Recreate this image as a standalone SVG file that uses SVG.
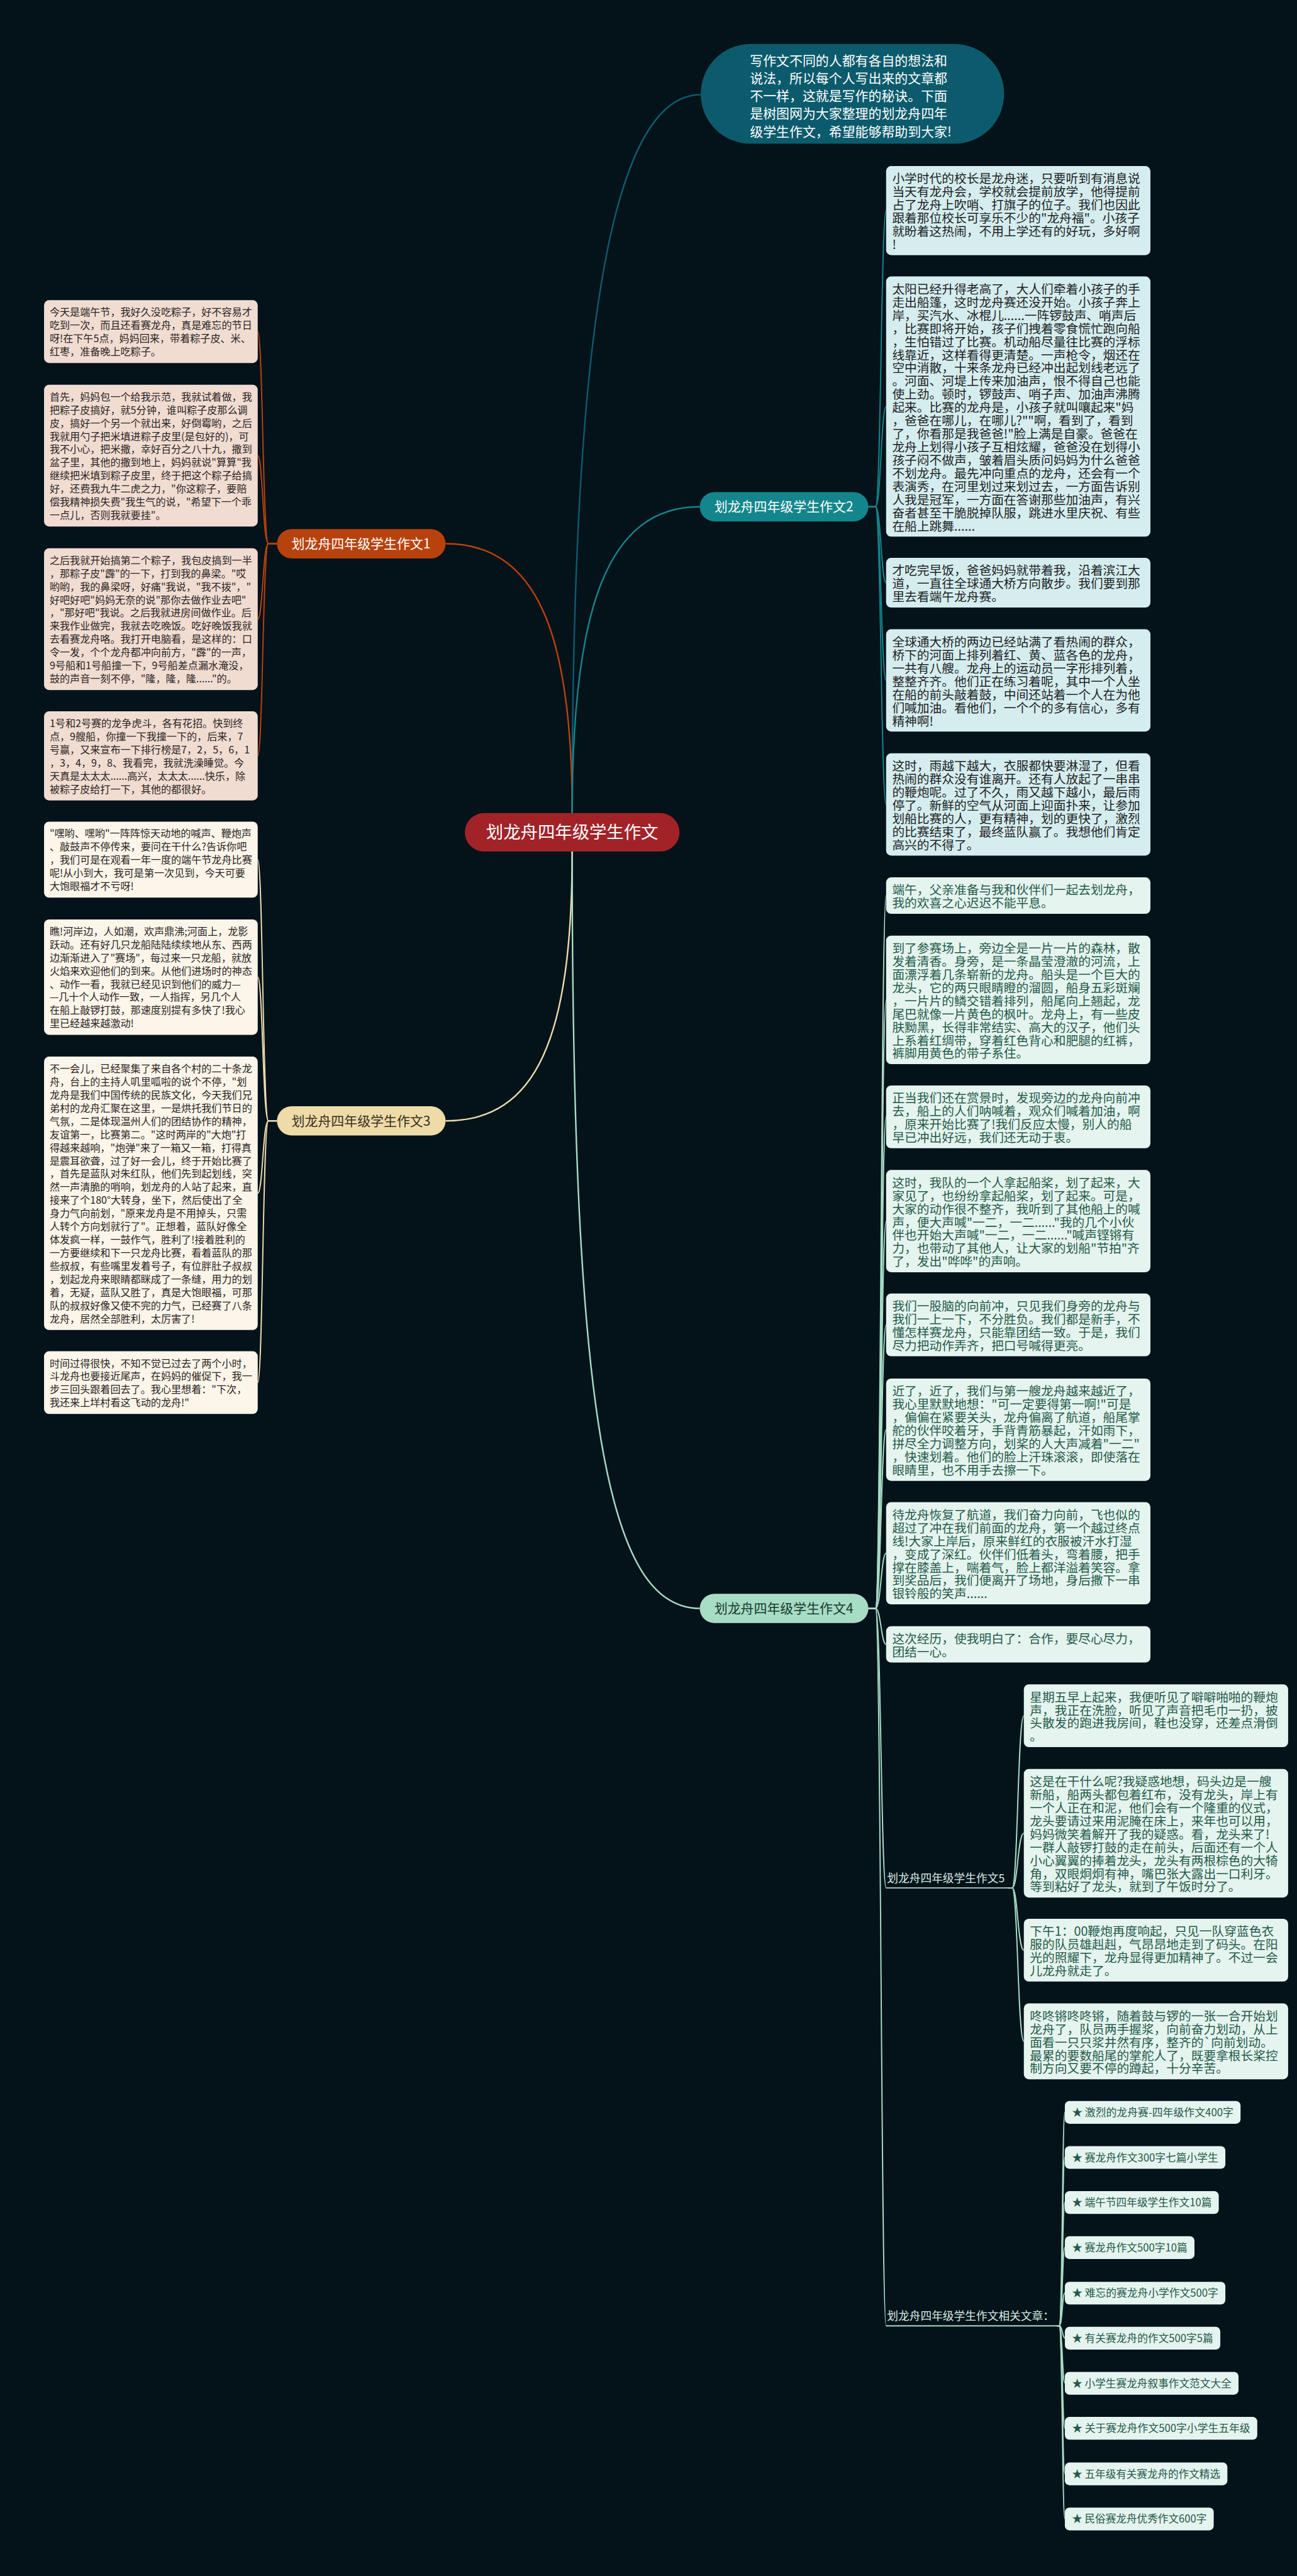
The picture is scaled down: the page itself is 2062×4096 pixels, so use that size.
<svg xmlns="http://www.w3.org/2000/svg" width="2062" height="4096" viewBox="0 0 2062 4096">
<style>
.f{font-family:'Noto Sans CJK SC','Noto Sans',sans-serif}
.t20{font-size:20px}
.t25{font-size:24.5px}
.tl{fill:#2a2422}
.tr{fill:#1d2224}
.tg{fill:#245a49}
.c1{stroke:#b8420d}
.c2{stroke:#13868c}
.c3{stroke:#ecdcac}
.c4{stroke:#a6dcc4}
.ci{stroke:#0b5b6d}
.con path{fill:none}
.main{stroke-width:3}
.sub{stroke-width:2.4}
.n1{fill:#f1dcd2}
.n3{fill:#fbf5ea}
.n2{fill:#d5edef}
.n4{fill:#e5f4ef}
</style>
<rect x="0" y="0" width="2062" height="4096" fill="#04121a"/>
<g transform="scale(0.805)">
<g id="connectors" class="con">
<path class="ci main" d="M1130,1606 C1130,700 1200,187 1384,187"/>
<path class="c1 main" d="M1130,1606 C1130,1250 1060,1074 880,1074"/>
<path class="c2 main" d="M1130,1606 C1130,1200 1200,1001 1382,1001"/>
<path class="c3 main" d="M1130,1682 C1130,2050 1060,2214 880,2214"/>
<path class="c4 main" d="M1130,1682 C1130,2800 1200,3177 1382,3177"/>
<path class="c1 sub" d="M547,1074 H530 C519,1074 519,655 509,655"/>
<path class="c1 sub" d="M547,1074 H530 C519,1074 519,900 509,900"/>
<path class="c1 sub" d="M547,1074 H530 C519,1074 519,1223 509,1223"/>
<path class="c1 sub" d="M547,1074 H530 C519,1074 519,1493 509,1493"/>
<path class="c3 sub" d="M547,2214 H530 C519,2214 519,1698 509,1698"/>
<path class="c3 sub" d="M547,2214 H530 C519,2214 519,1930 509,1930"/>
<path class="c3 sub" d="M547,2214 H530 C519,2214 519,2357 509,2357"/>
<path class="c3 sub" d="M547,2214 H530 C519,2214 519,2731 509,2731"/>
<path class="c2 sub" d="M1715,1001 H1729 C1740,1001 1740,416 1750,416"/>
<path class="c2 sub" d="M1715,1001 H1729 C1740,1001 1740,803 1750,803"/>
<path class="c2 sub" d="M1715,1001 H1729 C1740,1001 1740,1151 1750,1151"/>
<path class="c2 sub" d="M1715,1001 H1729 C1740,1001 1740,1344 1750,1344"/>
<path class="c2 sub" d="M1715,1001 H1729 C1740,1001 1740,1589 1750,1589"/>
<path class="c4 sub" d="M1715,3177 H1729 C1740,3177 1740,1769 1750,1769"/>
<path class="c4 sub" d="M1715,3177 H1729 C1740,3177 1740,1975 1750,1975"/>
<path class="c4 sub" d="M1715,3177 H1729 C1740,3177 1740,2206 1750,2206"/>
<path class="c4 sub" d="M1715,3177 H1729 C1740,3177 1740,2412 1750,2412"/>
<path class="c4 sub" d="M1715,3177 H1729 C1740,3177 1740,2617 1750,2617"/>
<path class="c4 sub" d="M1715,3177 H1729 C1740,3177 1740,2824 1750,2824"/>
<path class="c4 sub" d="M1715,3177 H1729 C1740,3177 1740,3068 1750,3068"/>
<path class="c4 sub" d="M1715,3177 H1729 C1740,3177 1740,3248 1750,3248"/>
<path class="c4 sub" d="M1715,3177 H1729 C1740,3177 1740,3729 1750,3729"/>
<path class="c4 sub" d="M1715,3177 H1729 C1740,3177 1740,4594 1750,4594"/>
<path class="c4 sub" d="M1750,3729 H1990"/>
<path class="c4 sub" d="M1750,4594 H2088"/>
<path class="c4 sub" d="M1990,3729 H1999 C2010,3729 2010,3389 2022,3389"/>
<path class="c4 sub" d="M1990,3729 H1999 C2010,3729 2010,3621 2022,3621"/>
<path class="c4 sub" d="M1990,3729 H1999 C2010,3729 2010,3852 2022,3852"/>
<path class="c4 sub" d="M1990,3729 H1999 C2010,3729 2010,4032 2022,4032"/>
<path class="c4 sub" d="M2088,4594 H2092 C2098,4594 2098,4172 2103,4172"/>
<path class="c4 sub" d="M2088,4594 H2092 C2098,4594 2098,4261 2103,4261"/>
<path class="c4 sub" d="M2088,4594 H2092 C2098,4594 2098,4350 2103,4350"/>
<path class="c4 sub" d="M2088,4594 H2092 C2098,4594 2098,4439 2103,4439"/>
<path class="c4 sub" d="M2088,4594 H2092 C2098,4594 2098,4529 2103,4529"/>
<path class="c4 sub" d="M2088,4594 H2092 C2098,4594 2098,4618 2103,4618"/>
<path class="c4 sub" d="M2088,4594 H2092 C2098,4594 2098,4707 2103,4707"/>
<path class="c4 sub" d="M2088,4594 H2092 C2098,4594 2098,4796 2103,4796"/>
<path class="c4 sub" d="M2088,4594 H2092 C2098,4594 2098,4886 2103,4886"/>
<path class="c4 sub" d="M2088,4594 H2092 C2098,4594 2098,4975 2103,4975"/>
</g>

<g id="center">
<rect x="918" y="1606" width="424" height="76" rx="38" fill="#a12328"/>
<text class="f" x="1130" y="1656" font-size="34" fill="#ffffff" text-anchor="middle">划龙舟四年级学生作文</text>
</g>

<g id="intro">
<rect x="1384" y="87" width="599" height="197" rx="98" fill="#0b5b6d"/>
<text class="f" font-size="26" fill="#ffffff"><tspan x="1481" y="129">写作文不同的人都有各自的想法和</tspan><tspan x="1481" dy="35">说法，所以每个人写出来的文章都</tspan><tspan x="1481" dy="35">不一样，这就是写作的秘诀。下面</tspan><tspan x="1481" dy="35">是树图网为大家整理的划龙舟四年</tspan><tspan x="1481" dy="35">级学生作文，希望能够帮助到大家!</tspan></text>
</g>

<g id="branch1">
<rect x="547" y="1045" width="333" height="58" rx="29" fill="#b8420d"/>
<text class="f" x="713" y="1083" font-size="26" fill="#ffffff" text-anchor="middle">划龙舟四年级学生作文1</text>
</g>
<g id="branch2">
<rect x="1382" y="972" width="333" height="58" rx="29" fill="#13868c"/>
<text class="f" x="1548" y="1010" font-size="26" fill="#ffffff" text-anchor="middle">划龙舟四年级学生作文2</text>
</g>
<g id="branch3">
<rect x="547" y="2185" width="333" height="58" rx="29" fill="#efdba8"/>
<text class="f" x="713" y="2223" font-size="26" fill="#3a3020" text-anchor="middle">划龙舟四年级学生作文3</text>
</g>
<g id="branch4">
<rect x="1382" y="3148" width="333" height="58" rx="29" fill="#a7dcc5"/>
<text class="f" x="1548" y="3186" font-size="26" fill="#173a30" text-anchor="middle">划龙舟四年级学生作文4</text>
</g>

<g id="L1">
<rect class="n1" x="87" y="593" width="422" height="124" rx="10"/>
<text class="f t20 tl"><tspan x="98" y="624">今天是端午节，我好久没吃粽子，好不容易才</tspan><tspan x="98" dy="26">吃到一次，而且还看赛龙舟，真是难忘的节日</tspan><tspan x="98" dy="26">呀!在下午5点，妈妈回来，带着粽子皮、米、</tspan><tspan x="98" dy="26">红枣，准备晚上吃粽子。</tspan></text>
</g>
<g id="L2">
<rect class="n1" x="87" y="760" width="422" height="280" rx="10"/>
<text class="f t20 tl"><tspan x="98" y="791">首先，妈妈包一个给我示范，我就试着做，我</tspan><tspan x="98" dy="26">把粽子皮搞好，就5分钟，谁叫粽子皮那么调</tspan><tspan x="98" dy="26">皮，搞好一个另一个就出来，好倒霉哟，之后</tspan><tspan x="98" dy="26">我就用勺子把米填进粽子皮里(是包好的)，可</tspan><tspan x="98" dy="26">我不小心，把米撒，幸好百分之八十九，撒到</tspan><tspan x="98" dy="26">盆子里，其他的撒到地上，妈妈就说"算算"我</tspan><tspan x="98" dy="26">继续把米填到粽子皮里，终于把这个粽子给搞</tspan><tspan x="98" dy="26">好，还费我九牛二虎之力，"你这粽子，要赔</tspan><tspan x="98" dy="26">偿我精神损失费"我生气的说，"希望下一个乖</tspan><tspan x="98" dy="26">一点儿，否则我就要挂"。</tspan></text>
</g>
<g id="L3">
<rect class="n1" x="87" y="1083" width="422" height="280" rx="10"/>
<text class="f t20 tl"><tspan x="98" y="1114">之后我就开始搞第二个粽子，我包皮搞到一半</tspan><tspan x="98" dy="26">，那粽子皮"霹"的一下，打到我的鼻梁。"哎</tspan><tspan x="98" dy="26">哟哟，我的鼻梁呀，好痛"我说，"我不拨"，"</tspan><tspan x="98" dy="26">好吧好吧"妈妈无奈的说"那你去做作业去吧"</tspan><tspan x="98" dy="26">，"那好吧"我说。之后我就进房间做作业。后</tspan><tspan x="98" dy="26">来我作业做完，我就去吃晚饭。吃好晚饭我就</tspan><tspan x="98" dy="26">去看赛龙舟咯。我打开电脑看，是这样的：口</tspan><tspan x="98" dy="26">令一发，个个龙舟都冲向前方，"霹"的一声，</tspan><tspan x="98" dy="26">9号船和1号船撞一下，9号船差点漏水淹没，</tspan><tspan x="98" dy="26">鼓的声音一刻不停，"隆，隆，隆......"的。</tspan></text>
</g>
<g id="L4">
<rect class="n1" x="87" y="1405" width="422" height="176" rx="10"/>
<text class="f t20 tl"><tspan x="98" y="1436">1号和2号赛的龙争虎斗，各有花招。快到终</tspan><tspan x="98" dy="26">点，9艘船，你撞一下我撞一下的，后来，7</tspan><tspan x="98" dy="26">号赢，又来宣布一下排行榜是7，2，5，6，1</tspan><tspan x="98" dy="26">，3，4，9，8、我看完，我就洗澡睡觉。今</tspan><tspan x="98" dy="26">天真是太太太......高兴，太太太......快乐，除</tspan><tspan x="98" dy="26">被粽子皮给打一下，其他的都很好。</tspan></text>
</g>
<g id="L5">
<rect class="n3" x="87" y="1623" width="422" height="150" rx="10"/>
<text class="f t20 tl"><tspan x="98" y="1654">"嘿哟、嘿哟"一阵阵惊天动地的喊声、鞭炮声</tspan><tspan x="98" dy="26">、敲鼓声不停传来，要问在干什么?告诉你吧</tspan><tspan x="98" dy="26">，我们可是在观看一年一度的端午节龙舟比赛</tspan><tspan x="98" dy="26">呢!从小到大，我可是第一次见到，今天可要</tspan><tspan x="98" dy="26">大饱眼福才不亏呀!</tspan></text>
</g>
<g id="L6">
<rect class="n3" x="87" y="1816" width="422" height="228" rx="10"/>
<text class="f t20 tl"><tspan x="98" y="1847">瞧!河岸边，人如潮，欢声鼎沸;河面上，龙影</tspan><tspan x="98" dy="26">跃动。还有好几只龙船陆陆续续地从东、西两</tspan><tspan x="98" dy="26">边渐渐进入了"赛场"，每过来一只龙船，就放</tspan><tspan x="98" dy="26">火焰来欢迎他们的到来。从他们进场时的神态</tspan><tspan x="98" dy="26">、动作一看，我就已经见识到他们的威力—</tspan><tspan x="98" dy="26">—几十个人动作一致，一人指挥，另几个人</tspan><tspan x="98" dy="26">在船上敲锣打鼓，那速度别提有多快了!我心</tspan><tspan x="98" dy="26">里已经越来越激动!</tspan></text>
</g>
<g id="L7">
<rect class="n3" x="87" y="2087" width="422" height="540" rx="10"/>
<text class="f t20 tl"><tspan x="98" y="2118">不一会儿，已经聚集了来自各个村的二十条龙</tspan><tspan x="98" dy="26">舟，台上的主持人叽里呱啦的说个不停，"划</tspan><tspan x="98" dy="26">龙舟是我们中国传统的民族文化，今天我们兄</tspan><tspan x="98" dy="26">弟村的龙舟汇聚在这里，一是烘托我们节日的</tspan><tspan x="98" dy="26">气氛，二是体现温州人们的团结协作的精神，</tspan><tspan x="98" dy="26">友谊第一，比赛第二。"这时两岸的"大炮"打</tspan><tspan x="98" dy="26">得越来越响，"炮弹"来了一箱又一箱，打得真</tspan><tspan x="98" dy="26">是震耳欲聋，过了好一会儿，终于开始比赛了</tspan><tspan x="98" dy="26">，首先是蓝队对朱红队，他们先到起划线，突</tspan><tspan x="98" dy="26">然一声清脆的哨响，划龙舟的人站了起来，直</tspan><tspan x="98" dy="26">接来了个180°大转身，坐下，然后使出了全</tspan><tspan x="98" dy="26">身力气向前划，"原来龙舟是不用掉头，只需</tspan><tspan x="98" dy="26">人转个方向划就行了"。正想着，蓝队好像全</tspan><tspan x="98" dy="26">体发疯一样，一鼓作气，胜利了!接着胜利的</tspan><tspan x="98" dy="26">一方要继续和下一只龙舟比赛，看着蓝队的那</tspan><tspan x="98" dy="26">些叔叔，有些嘴里发着号子，有位胖肚子叔叔</tspan><tspan x="98" dy="26">，划起龙舟来眼睛都眯成了一条缝，用力的划</tspan><tspan x="98" dy="26">着，无疑，蓝队又胜了，真是大饱眼福，可那</tspan><tspan x="98" dy="26">队的叔叔好像又使不完的力气，已经赛了八条</tspan><tspan x="98" dy="26">龙舟，居然全部胜利，太厉害了!</tspan></text>
</g>
<g id="L8">
<rect class="n3" x="87" y="2669" width="422" height="124" rx="10"/>
<text class="f t20 tl"><tspan x="98" y="2700">时间过得很快，不知不觉已过去了两个小时，</tspan><tspan x="98" dy="26">斗龙舟也要接近尾声，在妈妈的催促下，我一</tspan><tspan x="98" dy="26">步三回头跟着回去了。我心里想着："下次，</tspan><tspan x="98" dy="26">我还来上垟村看这飞动的龙舟!"</tspan></text>
</g>

<g id="R1">
<rect class="n2" x="1750" y="328" width="522" height="176" rx="10"/>
<text class="f t25 tr"><tspan x="1762" y="362">小学时代的校长是龙舟迷，只要听到有消息说</tspan><tspan x="1762" dy="26">当天有龙舟会，学校就会提前放学，他得提前</tspan><tspan x="1762" dy="26">占了龙舟上吹哨、打旗子的位子。我们也因此</tspan><tspan x="1762" dy="26">跟着那位校长可享乐不少的"龙舟福"。小孩子</tspan><tspan x="1762" dy="26">就盼着这热闹，不用上学还有的好玩，多好啊</tspan><tspan x="1762" dy="26">!</tspan></text>
</g>
<g id="R2">
<rect class="n2" x="1750" y="546" width="522" height="514" rx="10"/>
<text class="f t25 tr"><tspan x="1762" y="580">太阳已经升得老高了，大人们牵着小孩子的手</tspan><tspan x="1762" dy="26">走出船篷，这时龙舟赛还没开始。小孩子奔上</tspan><tspan x="1762" dy="26">岸，买汽水、冰棍儿......一阵锣鼓声、哨声后</tspan><tspan x="1762" dy="26">，比赛即将开始，孩子们拽着零食慌忙跑向船</tspan><tspan x="1762" dy="26">，生怕错过了比赛。机动船尽量往比赛的浮标</tspan><tspan x="1762" dy="26">线靠近，这样看得更清楚。一声枪令，烟还在</tspan><tspan x="1762" dy="26">空中消散，十来条龙舟已经冲出起划线老远了</tspan><tspan x="1762" dy="26">。河面、河堤上传来加油声，恨不得自己也能</tspan><tspan x="1762" dy="26">使上劲。顿时，锣鼓声、哨子声、加油声沸腾</tspan><tspan x="1762" dy="26">起来。比赛的龙舟是，小孩子就叫嚷起来"妈</tspan><tspan x="1762" dy="26">，爸爸在哪儿，在哪儿?""啊，看到了，看到</tspan><tspan x="1762" dy="26">了，你看那是我爸爸!"脸上满是自豪。爸爸在</tspan><tspan x="1762" dy="26">龙舟上划得小孩子互相炫耀，爸爸没在划得小</tspan><tspan x="1762" dy="26">孩子闷不做声，皱着眉头质问妈妈为什么爸爸</tspan><tspan x="1762" dy="26">不划龙舟。最先冲向重点的龙舟，还会有一个</tspan><tspan x="1762" dy="26">表演秀，在河里划过来划过去，一方面告诉别</tspan><tspan x="1762" dy="26">人我是冠军，一方面在答谢那些加油声，有兴</tspan><tspan x="1762" dy="26">奋者甚至干脆脱掉队服，跳进水里庆祝、有些</tspan><tspan x="1762" dy="26">在船上跳舞......</tspan></text>
</g>
<g id="R3">
<rect class="n2" x="1750" y="1102" width="522" height="98" rx="10"/>
<text class="f t25 tr"><tspan x="1762" y="1136">才吃完早饭，爸爸妈妈就带着我，沿着滨江大</tspan><tspan x="1762" dy="26">道，一直往全球通大桥方向散步。我们要到那</tspan><tspan x="1762" dy="26">里去看端午龙舟赛。</tspan></text>
</g>
<g id="R4">
<rect class="n2" x="1750" y="1243" width="522" height="202" rx="10"/>
<text class="f t25 tr"><tspan x="1762" y="1277">全球通大桥的两边已经站满了看热闹的群众，</tspan><tspan x="1762" dy="26">桥下的河面上排列着红、黄、蓝各色的龙舟，</tspan><tspan x="1762" dy="26">一共有八艘。龙舟上的运动员一字形排列着，</tspan><tspan x="1762" dy="26">整整齐齐。他们正在练习着呢，其中一个人坐</tspan><tspan x="1762" dy="26">在船的前头敲着鼓，中间还站着一个人在为他</tspan><tspan x="1762" dy="26">们喊加油。看他们，一个个的多有信心，多有</tspan><tspan x="1762" dy="26">精神啊!</tspan></text>
</g>
<g id="R5">
<rect class="n2" x="1750" y="1488" width="522" height="202" rx="10"/>
<text class="f t25 tr"><tspan x="1762" y="1522">这时，雨越下越大，衣服都快要淋湿了，但看</tspan><tspan x="1762" dy="26">热闹的群众没有谁离开。还有人放起了一串串</tspan><tspan x="1762" dy="26">的鞭炮呢。过了不久，雨又越下越小，最后雨</tspan><tspan x="1762" dy="26">停了。新鲜的空气从河面上迎面扑来，让参加</tspan><tspan x="1762" dy="26">划船比赛的人，更有精神，划的更快了，激烈</tspan><tspan x="1762" dy="26">的比赛结束了，最终蓝队赢了。我想他们肯定</tspan><tspan x="1762" dy="26">高兴的不得了。</tspan></text>
</g>

<g id="S4-1">
<rect class="n4" x="1750" y="1733" width="522" height="72" rx="10"/>
<text class="f t25 tg"><tspan x="1762" y="1767">端午，父亲准备与我和伙伴们一起去划龙舟，</tspan><tspan x="1762" dy="26">我的欢喜之心迟迟不能平息。</tspan></text>
</g>
<g id="S4-2">
<rect class="n4" x="1750" y="1848" width="522" height="254" rx="10"/>
<text class="f t25 tg"><tspan x="1762" y="1882">到了参赛场上，旁边全是一片一片的森林，散</tspan><tspan x="1762" dy="26">发着清香。身旁，是一条晶莹澄澈的河流，上</tspan><tspan x="1762" dy="26">面漂浮着几条崭新的龙舟。船头是一个巨大的</tspan><tspan x="1762" dy="26">龙头，它的两只眼睛瞪的溜圆，船身五彩斑斓</tspan><tspan x="1762" dy="26">，一片片的鳞交错着排列，船尾向上翘起，龙</tspan><tspan x="1762" dy="26">尾巴就像一片黄色的枫叶。龙舟上，有一些皮</tspan><tspan x="1762" dy="26">肤黝黑，长得非常结实、高大的汉子，他们头</tspan><tspan x="1762" dy="26">上系着红绸带，穿着红色背心和肥腿的红裤，</tspan><tspan x="1762" dy="26">裤脚用黄色的带子系住。</tspan></text>
</g>
<g id="S4-3">
<rect class="n4" x="1750" y="2144" width="522" height="124" rx="10"/>
<text class="f t25 tg"><tspan x="1762" y="2178">正当我们还在赏景时，发现旁边的龙舟向前冲</tspan><tspan x="1762" dy="26">去，船上的人们呐喊着，观众们喊着加油，啊</tspan><tspan x="1762" dy="26">，原来开始比赛了!我们反应太慢，别人的船</tspan><tspan x="1762" dy="26">早已冲出好远，我们还无动于衷。</tspan></text>
</g>
<g id="S4-4">
<rect class="n4" x="1750" y="2311" width="522" height="202" rx="10"/>
<text class="f t25 tg"><tspan x="1762" y="2345">这时，我队的一个人拿起船桨，划了起来，大</tspan><tspan x="1762" dy="26">家见了，也纷纷拿起船桨，划了起来。可是，</tspan><tspan x="1762" dy="26">大家的动作很不整齐，我听到了其他船上的喊</tspan><tspan x="1762" dy="26">声，便大声喊"一二，一二......"我的几个小伙</tspan><tspan x="1762" dy="26">伴也开始大声喊"一二，一二......"喊声铿锵有</tspan><tspan x="1762" dy="26">力，也带动了其他人，让大家的划船"节拍"齐</tspan><tspan x="1762" dy="26">了，发出"哗哗"的声响。</tspan></text>
</g>
<g id="S4-5">
<rect class="n4" x="1750" y="2555" width="522" height="124" rx="10"/>
<text class="f t25 tg"><tspan x="1762" y="2589">我们一股脑的向前冲，只见我们身旁的龙舟与</tspan><tspan x="1762" dy="26">我们一上一下，不分胜负。我们都是新手，不</tspan><tspan x="1762" dy="26">懂怎样赛龙舟，只能靠团结一致。于是，我们</tspan><tspan x="1762" dy="26">尽力把动作弄齐，把口号喊得更亮。</tspan></text>
</g>
<g id="S4-6">
<rect class="n4" x="1750" y="2723" width="522" height="202" rx="10"/>
<text class="f t25 tg"><tspan x="1762" y="2757">近了，近了，我们与第一艘龙舟越来越近了，</tspan><tspan x="1762" dy="26">我心里默默地想："可一定要得第一啊!"可是</tspan><tspan x="1762" dy="26">，偏偏在紧要关头，龙舟偏离了航道，船尾掌</tspan><tspan x="1762" dy="26">舵的伙伴咬着牙，手背青筋暴起，汗如雨下，</tspan><tspan x="1762" dy="26">拼尽全力调整方向，划桨的人大声减着"一二"</tspan><tspan x="1762" dy="26">，快速划着。他们的脸上汗珠滚滚，即使落在</tspan><tspan x="1762" dy="26">眼睛里，也不用手去擦一下。</tspan></text>
</g>
<g id="S4-7">
<rect class="n4" x="1750" y="2967" width="522" height="202" rx="10"/>
<text class="f t25 tg"><tspan x="1762" y="3001">待龙舟恢复了航道，我们奋力向前，飞也似的</tspan><tspan x="1762" dy="26">超过了冲在我们前面的龙舟，第一个越过终点</tspan><tspan x="1762" dy="26">线!大家上岸后，原来鲜红的衣服被汗水打湿</tspan><tspan x="1762" dy="26">，变成了深红。伙伴们低着头，弯着腰，把手</tspan><tspan x="1762" dy="26">撑在膝盖上，喘着气，脸上都洋溢着笑容。拿</tspan><tspan x="1762" dy="26">到奖品后，我们便离开了场地，身后撒下一串</tspan><tspan x="1762" dy="26">银铃般的笑声......</tspan></text>
</g>
<g id="S4-8">
<rect class="n4" x="1750" y="3212" width="522" height="72" rx="10"/>
<text class="f t25 tg"><tspan x="1762" y="3246">这次经历，使我明白了：合作，要尽心尽力，</tspan><tspan x="1762" dy="26">团结一心。</tspan></text>
</g>

<g id="label5">
<text class="f" x="1752" y="3718" font-size="22" fill="#d6ece4">划龙舟四年级学生作文5</text>
</g>
<g id="S5-1">
<rect class="n4" x="2022" y="3327" width="522" height="124" rx="10"/>
<text class="f t25 tg"><tspan x="2034" y="3361">星期五早上起来，我便听见了噼噼啪啪的鞭炮</tspan><tspan x="2034" dy="26">声，我正在洗脸，听见了声音把毛巾一扔，披</tspan><tspan x="2034" dy="26">头散发的跑进我房间，鞋也没穿，还差点滑倒</tspan><tspan x="2034" dy="26">。</tspan></text>
</g>
<g id="S5-2">
<rect class="n4" x="2022" y="3494" width="522" height="254" rx="10"/>
<text class="f t25 tg"><tspan x="2034" y="3528">这是在干什么呢?我疑惑地想，码头边是一艘</tspan><tspan x="2034" dy="26">新船，船两头都包着红布，没有龙头，岸上有</tspan><tspan x="2034" dy="26">一个人正在和泥，他们会有一个隆重的仪式，</tspan><tspan x="2034" dy="26">龙头要请过来用泥腌在床上，来年也可以用，</tspan><tspan x="2034" dy="26">妈妈微笑着解开了我的疑惑。看，龙头来了!</tspan><tspan x="2034" dy="26">一群人敲锣打鼓的走在前头，后面还有一个人</tspan><tspan x="2034" dy="26">小心翼翼的捧着龙头，龙头有两根棕色的大犄</tspan><tspan x="2034" dy="26">角，双眼炯炯有神，嘴巴张大露出一口利牙。</tspan><tspan x="2034" dy="26">等到粘好了龙头，就到了午饭时分了。</tspan></text>
</g>
<g id="S5-3">
<rect class="n4" x="2022" y="3790" width="522" height="124" rx="10"/>
<text class="f t25 tg"><tspan x="2034" y="3824">下午1：00鞭炮再度响起，只见一队穿蓝色衣</tspan><tspan x="2034" dy="26">服的队员雄赳赳，气昂昂地走到了码头。在阳</tspan><tspan x="2034" dy="26">光的照耀下，龙舟显得更加精神了。不过一会</tspan><tspan x="2034" dy="26">儿龙舟就走了。</tspan></text>
</g>
<g id="S5-4">
<rect class="n4" x="2022" y="3957" width="522" height="150" rx="10"/>
<text class="f t25 tg"><tspan x="2034" y="3991">咚咚锵咚咚锵，随着鼓与锣的一张一合开始划</tspan><tspan x="2034" dy="26">龙舟了，队员两手握浆，向前奋力划动，从上</tspan><tspan x="2034" dy="26">面看一只只浆井然有序，整齐的`向前划动。</tspan><tspan x="2034" dy="26">最累的要数船尾的掌舵人了，既要拿根长桨控</tspan><tspan x="2034" dy="26">制方向又要不停的蹲起，十分辛苦。</tspan></text>
</g>

<g id="related-label">
<text class="f" x="1752" y="4583" font-size="22" fill="#d6ece4">划龙舟四年级学生作文相关文章：</text>
</g>
<g id="rel1"><rect class="n4" x="2103" y="4150" width="347" height="45" rx="9"/><text class="f tg" x="2117" y="4180" font-size="21" textLength="319" lengthAdjust="spacingAndGlyphs">★ 激烈的龙舟赛-四年级作文400字</text></g>
<g id="rel2"><rect class="n4" x="2103" y="4239" width="317" height="45" rx="9"/><text class="f tg" x="2117" y="4269" font-size="21" textLength="289" lengthAdjust="spacingAndGlyphs">★ 赛龙舟作文300字七篇小学生</text></g>
<g id="rel3"><rect class="n4" x="2103" y="4328" width="304" height="45" rx="9"/><text class="f tg" x="2117" y="4358" font-size="21" textLength="276" lengthAdjust="spacingAndGlyphs">★ 端午节四年级学生作文10篇</text></g>
<g id="rel4"><rect class="n4" x="2103" y="4417" width="256" height="45" rx="9"/><text class="f tg" x="2117" y="4447" font-size="21" textLength="228" lengthAdjust="spacingAndGlyphs">★ 赛龙舟作文500字10篇</text></g>
<g id="rel5"><rect class="n4" x="2103" y="4507" width="317" height="45" rx="9"/><text class="f tg" x="2117" y="4537" font-size="21" textLength="289" lengthAdjust="spacingAndGlyphs">★ 难忘的赛龙舟小学作文500字</text></g>
<g id="rel6"><rect class="n4" x="2103" y="4596" width="307" height="45" rx="9"/><text class="f tg" x="2117" y="4626" font-size="21" textLength="279" lengthAdjust="spacingAndGlyphs">★ 有关赛龙舟的作文500字5篇</text></g>
<g id="rel7"><rect class="n4" x="2103" y="4685" width="343" height="45" rx="9"/><text class="f tg" x="2117" y="4715" font-size="21" textLength="315" lengthAdjust="spacingAndGlyphs">★ 小学生赛龙舟叙事作文范文大全</text></g>
<g id="rel8"><rect class="n4" x="2103" y="4774" width="380" height="45" rx="9"/><text class="f tg" x="2117" y="4804" font-size="21" textLength="352" lengthAdjust="spacingAndGlyphs">★ 关于赛龙舟作文500字小学生五年级</text></g>
<g id="rel9"><rect class="n4" x="2103" y="4864" width="321" height="45" rx="9"/><text class="f tg" x="2117" y="4894" font-size="21" textLength="293" lengthAdjust="spacingAndGlyphs">★ 五年级有关赛龙舟的作文精选</text></g>
<g id="rel10"><rect class="n4" x="2103" y="4953" width="294" height="45" rx="9"/><text class="f tg" x="2117" y="4983" font-size="21" textLength="266" lengthAdjust="spacingAndGlyphs">★ 民俗赛龙舟优秀作文600字</text></g>
</g>
</svg>
